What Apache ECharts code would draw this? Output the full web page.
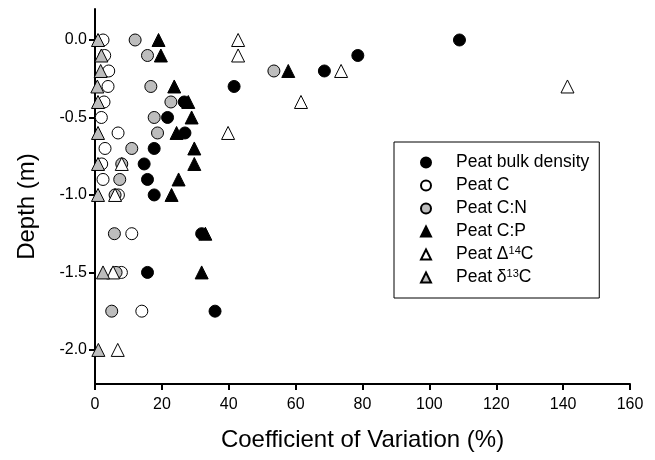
<!DOCTYPE html>
<html>
<head>
<meta charset="utf-8">
<title>Coefficient of Variation by depth</title>
<script src="https://cdn.jsdelivr.net/npm/echarts@6/dist/echarts.min.js"></script>
<style>
    html, body {
        margin: 0;
        padding: 0;
        background: #fff;
    }
    #chart {
        width: 655px;
        height: 460px;
    }
</style>
</head>
<body>
<div id="chart"></div>
<script>
// depths (m) and CV (%)
const bulkDepth = [0, -0.1, -0.2, -0.3, -0.4, -0.5, -0.6, -0.7, -0.8, -0.9, -1.0, -1.25, -1.5, -1.75]
const bulkCV = [109, 78.6, 68.6, 41.6, 26.7, 21.7, 26.9, 17.7, 14.7, 15.7, 17.7, 31.9, 15.7, 35.9]

const cDepth = [0, -0.1, -0.2, -0.3, -0.4, -0.5, -0.6, -0.7, -0.8, -0.9, -1.0, -1.25, -1.5, -1.75]
const cCV = [2.4, 2.9, 4.1, 3.9, 2.7, 1.9, 6.9, 3, 2, 2.4, 7, 11, 7.9, 14]

const cnDepth = [0, -0.1, -0.2, -0.3, -0.4, -0.5, -0.6, -0.7, -0.8, -0.9, -1.0, -1.25, -1.5, -1.75]
const cnCV = [12, 15.7, 53.5, 16.7, 22.7, 17.7, 18.7, 11, 8, 7.4, 6, 5.8, 6.3, 5]

const cpDepth = [0, -0.1, -0.2, -0.3, -0.4, -0.5, -0.6, -0.7, -0.8, -0.9, -1.0, -1.25, -1.5]
const cpCV = [19, 19.7, 57.8, 23.7, 27.9, 28.9, 24.4, 29.7, 29.7, 25, 22.9, 33, 31.9]

const d14Depth = [0, -0.1, -0.2, -0.3, -0.4, -0.6, -0.8, -1.0, -1.5, -2.0]
const d14CV = [42.8, 42.8, 73.6, 141.3, 61.6, 39.8, 8, 6, 5.4, 6.8]

const d13Depth = [0, -0.1, -0.2, -0.3, -0.4, -0.6, -0.8, -1.0, -1.5, -2.0]
const d13CV = [0.9, 1.9, 1.7, 0.7, 0.9, 0.9, 0.9, 0.9, 2.4, 1]

const xTicks = [0, 20, 40, 60, 80, 100, 120, 140, 160]
const yTicks = [0, -0.5, -1.0, -1.5, -2.0]

const font = 'Liberation Sans, Arial, sans-serif'
const grey = '#bdbdbd'

const pairs = (xs, ys) => xs.map((x, i) => [x, ys[i]])

const makeSeries = (name, xs, ys, symbol, fill) => ({
    name: name,
    type: 'scatter',
    symbol: symbol,
    symbolSize: symbol === 'circle' ? 12 : 13,
    data: pairs(xs, ys),
    itemStyle: {
        color: fill,
        borderColor: '#000',
        borderWidth: 1,
        opacity: 1
    },
    emphasis: { disabled: true }
})

const myChart = echarts.init(document.getElementById('chart'))
myChart.setOption({
    backgroundColor: '#fff',
    animation: false,
    textStyle: { fontFamily: font },
    grid: {
        left: 95,
        right: 25,
        top: 9,
        bottom: 76
    },
    legend: {
        orient: 'vertical',
        left: 394,
        top: 142,
        padding: [11, 10, 11, 26],
        borderColor: '#000',
        borderWidth: 1,
        itemWidth: 10,
        itemHeight: 10,
        itemGap: 4,
        data: ['Peat bulk density', 'Peat C', 'Peat C:N', 'Peat C:P', 'Peat Δ14C', 'Peat δ13C'],
        formatter: function (name) {
            return name.replace(/(\d+)/, '{sup|$1}')
        },
        textStyle: {
            color: '#000',
            fontFamily: font,
            fontSize: 17.5,
            lineHeight: 19,
            padding: [0, 0, 0, 20],
            rich: {
                sup: {
                    fontSize: 11,
                    fontFamily: font,
                    color: '#000',
                    verticalAlign: 'top',
                    lineHeight: 9
                }
            }
        }
    },
    xAxis: {
        type: 'value',
        min: 0,
        max: 160,
        interval: 20,
        name: 'Coefficient of Variation (%)',
        nameLocation: 'middle',
        nameGap: 44,
        nameTextStyle: { color: '#000', fontSize: 24, fontFamily: font },
        axisLine: { onZero: false, lineStyle: { color: '#000', width: 2 } },
        axisTick: { show: true, length: 6, lineStyle: { color: '#000', width: 2 }, customValues: xTicks },
        axisLabel: { color: '#000', fontSize: 16, margin: 13, customValues: xTicks },
        splitLine: { show: false }
    },
    yAxis: {
        type: 'value',
        min: -2.22,
        max: 0.2,
        name: 'Depth (m)',
        nameLocation: 'middle',
        nameGap: 56,
        // nudge the title down a bit, it sits below the axis centre in the original
        nameTextStyle: { color: '#000', fontSize: 24, fontFamily: font, padding: [0, 20, 0, 0] },
        axisLine: { onZero: false, lineStyle: { color: '#000', width: 2 } },
        axisTick: { show: true, length: 6, lineStyle: { color: '#000', width: 2 }, customValues: yTicks },
        axisLabel: {
            color: '#000',
            fontSize: 16,
            margin: 8,
            customValues: yTicks,
            formatter: function (v) { return v.toFixed(1) }
        },
        splitLine: { show: false }
    },
    series: [
        makeSeries('Peat bulk density', bulkCV, bulkDepth, 'circle', '#000'),
        makeSeries('Peat C', cCV, cDepth, 'circle', '#fff'),
        makeSeries('Peat C:N', cnCV, cnDepth, 'circle', grey),
        makeSeries('Peat C:P', cpCV, cpDepth, 'triangle', '#000'),
        makeSeries('Peat Δ14C', d14CV, d14Depth, 'triangle', '#fff'),
        makeSeries('Peat δ13C', d13CV, d13Depth, 'triangle', grey)
    ]
})
</script>
</body>
</html>
